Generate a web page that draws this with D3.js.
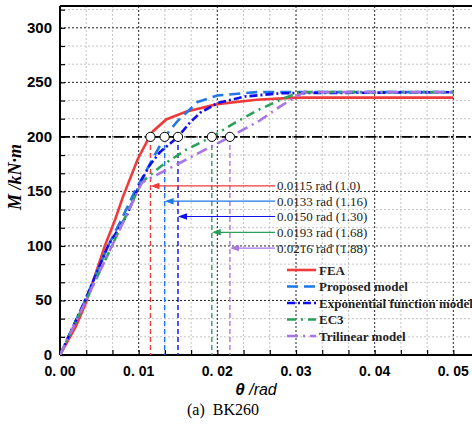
<!DOCTYPE html>
<html>
<head>
<meta charset="utf-8">
<script src="https://cdn.jsdelivr.net/npm/d3@7"></script>
<style>
  body { margin: 0; background: #fff; }
  svg { display: block; }
</style>
</head>
<body>
<div id="chart"></div>
<script>
// rotation (rad) / moment (kN·m) pairs
const feaTheta = [0, 0.002, 0.0032, 0.0057, 0.007, 0.008, 0.0099, 0.0113, 0.0118, 0.0135, 0.016, 0.02, 0.025, 0.03, 0.05];
const feaM     = [0, 26, 46, 100, 124, 145, 180, 199, 205, 216, 223, 230, 234, 236, 236];

const propTheta = [0, 0.003, 0.0061, 0.0078, 0.0095, 0.0105, 0.0115, 0.0133, 0.015, 0.0175, 0.02, 0.025, 0.05];
const propM     = [0, 47, 100, 124, 150, 163, 176, 200, 215, 232, 238, 241, 241];

const expTheta = [0, 0.003, 0.0061, 0.0085, 0.0102, 0.0114, 0.0127, 0.015, 0.0165, 0.0178, 0.02, 0.0235, 0.028, 0.05];
const expM     = [0, 47, 100, 128, 158, 174, 186, 200, 213, 222, 231, 237, 240, 241];

const ec3Theta = [0, 0.0066, 0.0102, 0.0108, 0.013, 0.016, 0.0193, 0.022, 0.025, 0.028, 0.0305, 0.05];
const ec3M     = [0, 100, 156, 161, 174, 188, 200, 212, 224, 234, 241, 241];

const triTheta = [0, 0.0066, 0.0104, 0.0216, 0.0254, 0.028, 0.031, 0.05];
const triM     = [0, 100, 158, 200, 215, 228, 241, 241];

const seriesNames = ['FEA', 'Proposed model', 'Exponential function model', 'EC3', 'Trilinear model'];

// yield points on the 200 kN·m line
const yieldTheta = [0.0115, 0.0133, 0.0150, 0.0193, 0.0216];
const yieldLabels = ['0.0115 rad (1.0)', '0.0133 rad (1.16)', '0.0150 rad (1.30)', '0.0193 rad (1.68)', '0.0216 rad (1.88)'];
const arrowM = [155, 141, 127, 112.5, 98];
const refM = 200;

const xMajor = [0, 0.01, 0.02, 0.03, 0.04, 0.05];
const yMajor = [0, 50, 100, 150, 200, 250, 300];

const colors = ['#ef3b3b', '#1f78e6', '#0d0df0', '#2ca05a', '#a874e6'];
const dashes = [null, '11,6', '8,3,2,3', '9,5,2,5', '11,5,2,5'];

const W = 472, H = 432;
const mLeft = 60, mTop = 6, mBottom = 355, mRight = 473;

const x = d3.scaleLinear().domain([0, 0.0525]).range([mLeft, mRight]);
const y = d3.scaleLinear().domain([0, 320]).range([mBottom, mTop]);

const svg = d3.select('#chart').append('svg')
  .attr('width', W).attr('height', H);

svg.append('defs').append('clipPath').attr('id', 'clip')
  .append('rect').attr('x', mLeft).attr('y', mTop).attr('width', mRight - mLeft).attr('height', mBottom - mTop);

// minor ticks at thirds of each major step
const xMinor = d3.range(0, 0.0525, 0.01 / 3).filter(v => Math.abs(v * 100 - Math.round(v * 100)) > 1e-6);
const yMinor = d3.range(0, 320, 50 / 3).filter(v => Math.abs(v / 50 - Math.round(v / 50)) > 1e-6);

const grid = svg.append('g');
grid.selectAll('.vminor').data(xMinor).enter().append('line')
  .attr('x1', d => x(d)).attr('x2', d => x(d)).attr('y1', mTop).attr('y2', mBottom)
  .attr('stroke', '#c4c4c4').attr('stroke-dasharray', '2,2').attr('stroke-width', 1);
grid.selectAll('.hminor').data(yMinor).enter().append('line')
  .attr('y1', d => y(d)).attr('y2', d => y(d)).attr('x1', mLeft).attr('x2', mRight)
  .attr('stroke', '#c4c4c4').attr('stroke-dasharray', '2,2').attr('stroke-width', 1);
grid.selectAll('.vmajor').data(xMajor.slice(1)).enter().append('line')
  .attr('x1', d => x(d)).attr('x2', d => x(d)).attr('y1', mTop).attr('y2', mBottom)
  .attr('stroke', '#222').attr('stroke-dasharray', '2,2').attr('stroke-width', 1);
grid.selectAll('.hmajor').data(yMajor.slice(1)).enter().append('line')
  .attr('y1', d => y(d)).attr('y2', d => y(d)).attr('x1', mLeft).attr('x2', mRight)
  .attr('stroke', '#222').attr('stroke-dasharray', '2,2').attr('stroke-width', 1);

// axes with inward minor ticks
svg.append('g')
  .attr('transform', `translate(0,${mBottom})`)
  .call(d3.axisTop(x).tickValues(xMinor.concat(xMajor)).tickSize(5).tickFormat(''))
  .call(g => g.select('.domain').remove())
  .selectAll('line').attr('stroke-width', 1.2);
svg.append('g')
  .attr('transform', `translate(${mLeft},0)`)
  .call(d3.axisRight(y).tickValues(yMinor.concat(yMajor)).tickSize(5).tickFormat(''))
  .call(g => g.select('.domain').remove())
  .selectAll('line').attr('stroke-width', 1.2);

svg.append('line').attr('x1', mLeft).attr('x2', mRight).attr('y1', mBottom).attr('y2', mBottom)
  .attr('stroke', '#000').attr('stroke-width', 2);
svg.append('line').attr('x1', mLeft).attr('x2', mLeft).attr('y1', mTop).attr('y2', mBottom)
  .attr('stroke', '#000').attr('stroke-width', 2);
svg.append('line').attr('x1', mLeft).attr('x2', mRight).attr('y1', mTop).attr('y2', mTop)
  .attr('stroke', '#000').attr('stroke-width', 2);

// tick labels
svg.selectAll('.xlab').data(xMajor).enter().append('text')
  .attr('x', d => x(d)).attr('y', 376)
  .attr('text-anchor', 'middle')
  .style('font-family', '"Liberation Sans Narrow", "Liberation Sans", Arial, sans-serif')
  .style('font-weight', 'bold').style('font-size', '14px')
  .text(d => d3.format('.2f')(d).replace('.', '. '));
svg.selectAll('.ylab').data(yMajor).enter().append('text')
  .attr('x', 52).attr('y', d => y(d) + 5)
  .attr('text-anchor', 'end')
  .style('font-family', '"Liberation Sans Narrow", "Liberation Sans", Arial, sans-serif')
  .style('font-weight', 'bold').style('font-size', '15px')
  .text(d => d);

// reference line at 200
svg.append('line').attr('x1', mLeft).attr('x2', mRight).attr('y1', y(refM)).attr('y2', y(refM))
  .attr('stroke', '#000').attr('stroke-width', 1.6).attr('stroke-dasharray', '10,3,2,3');

const plot = svg.append('g').attr('clip-path', 'url(#clip)');

// vertical dashed drop lines
plot.selectAll('.drop').data(yieldTheta).enter().append('line')
  .attr('x1', d => x(d)).attr('x2', d => x(d))
  .attr('y1', y(refM)).attr('y2', mBottom)
  .attr('stroke', (d, i) => colors[i]).attr('stroke-width', 1.4)
  .attr('stroke-dasharray', '5,3');

// curves
const thetas = [feaTheta, propTheta, expTheta, ec3Theta, triTheta];
const moments = [feaM, propM, expM, ec3M, triM];
const line = d3.line().x(d => x(d[0])).y(d => y(d[1]));
thetas.forEach((t, i) => {
  plot.append('path')
    .datum(t.map((v, j) => [v, moments[i][j]]))
    .attr('d', line)
    .attr('fill', 'none')
    .attr('stroke', colors[i])
    .attr('stroke-width', 2.6)
    .attr('stroke-dasharray', dashes[i]);
});

// yield circles
plot.selectAll('.yc').data(yieldTheta).enter().append('circle')
  .attr('cx', d => x(d)).attr('cy', y(refM)).attr('r', 4.6)
  .attr('fill', '#fff').attr('stroke', '#000').attr('stroke-width', 1);

// annotation arrows and labels
const textX = 277;
yieldTheta.forEach((t, i) => {
  const yy = y(arrowM[i]);
  const tip = x(t);
  svg.append('line').attr('x1', tip + 6).attr('x2', textX - 2).attr('y1', yy).attr('y2', yy)
    .attr('stroke', colors[i]).attr('stroke-width', 1.2);
  svg.append('path')
    .attr('d', `M${tip},${yy} L${tip + 9},${yy - 3.2} L${tip + 9},${yy + 3.2} Z`)
    .attr('fill', colors[i]);
  svg.append('text').attr('x', textX).attr('y', yy + 4.5)
    .style('font-family', '"Liberation Serif", "Times New Roman", serif')
    .style('font-size', '13px').attr('fill', '#222')
    .text(yieldLabels[i]);
});

// legend
const leg = svg.append('g');
seriesNames.forEach((name, i) => {
  const ly = 270 + i * 16.5;
  leg.append('line').attr('x1', 287).attr('x2', 316).attr('y1', ly).attr('y2', ly)
    .attr('stroke', colors[i]).attr('stroke-width', 2.6)
    .attr('stroke-dasharray', dashes[i]);
  leg.append('text').attr('x', 319).attr('y', ly + 4.5)
    .style('font-family', '"Liberation Serif", "Times New Roman", serif')
    .style('font-weight', 'bold').style('font-size', '13px').attr('fill', '#222')
    .text(name);
});

// axis titles
svg.append('text')
  .attr('transform', 'translate(21,177) rotate(-90)')
  .attr('text-anchor', 'middle')
  .style('font-family', '"Liberation Serif", "Times New Roman", serif')
  .style('font-weight', 'bold').style('font-style', 'italic').style('font-size', '18px')
  .text('M /kN·m');

const xt = svg.append('text').attr('x', 256).attr('y', 395).attr('text-anchor', 'middle')
  .style('font-family', '"Liberation Sans", Arial, sans-serif')
  .style('font-style', 'italic').style('font-size', '16px');
xt.append('tspan').style('font-weight', 'bold').style('font-size', '17px').text('θ');
xt.append('tspan').text(' /rad');

svg.append('text').attr('x', 223).attr('y', 415).attr('text-anchor', 'middle')
  .style('font-family', '"Liberation Serif", "Times New Roman", serif')
  .style('font-size', '16px').style('white-space', 'pre')
  .text('(a)  BK260');
</script>
</body>
</html>
